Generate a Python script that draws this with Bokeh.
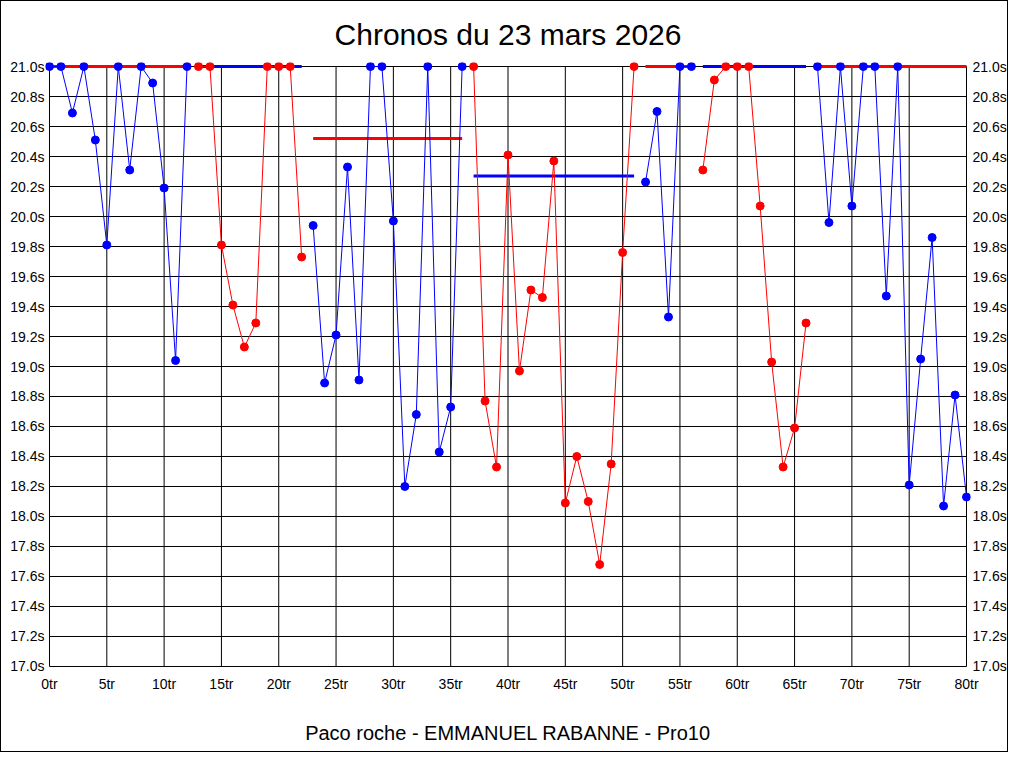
from bokeh.plotting import figure
from bokeh.models import (Range1d, LinearAxis, FixedTicker, PrintfTickFormatter,
                          Title, ColumnDataSource)
from bokeh.embed import file_html
from bokeh.resources import INLINE

# ---------------- data ----------------
laps = list(range(0, 81))
lap_times = [
    21.0, 21.0, 20.69, 21.0, 20.51, 19.81, 21.0, 20.31, 21.0, 20.89,   # 0-9
    20.19, 19.04, 21.0, 21.0, 21.0, 19.81, 19.41, 19.13, 19.29, 21.0,  # 10-19
    21.0, 21.0, 19.73, 19.94, 18.89, 19.21, 20.33, 18.91, 21.0, 21.0,  # 20-29
    19.97, 18.20, 18.68, 21.0, 18.43, 18.73, 21.0, 21.0, 18.77, 18.33, # 30-39
    20.41, 18.97, 19.51, 19.46, 20.37, 18.09, 18.40, 18.10, 17.68, 18.35, # 40-49
    19.76, 21.0, 20.23, 20.70, 19.33, 21.0, 21.0, 20.31, 20.91, 21.0,  # 50-59
    21.0, 21.0, 20.07, 19.03, 18.33, 18.59, 19.29, 21.0, 19.96, 21.0,  # 60-69
    20.07, 21.0, 21.0, 19.47, 21.0, 18.21, 19.05, 19.86, 18.07, 18.81, # 70-79
    18.13,                                                             # 80
]
stint_start = [0, 13, 23, 37, 52, 57, 67]
stint_end = [12, 22, 36, 51, 56, 66, 80]
stint_avg = [21.0, 21.0, 20.52, 20.27, 21.0, 21.0, 21.0]

x_ticks = list(range(0, 81, 5))
y_ticks = [round(17.0 + 0.2 * i, 1) for i in range(21)]

title_text = "Chronos du 23 mars 2026"
footer_text = "Paco roche - EMMANUEL RABANNE - Pro10"

BLUE = "#0000FF"
RED = "#FF0000"
FONT = "Liberation Sans"

# ---------------- figure ----------------
p = figure(width=1008, height=752, output_backend="svg", toolbar_location=None,
           x_range=Range1d(-0.348, 80.348), y_range=Range1d(16.9733, 21.0267),
           min_border_left=44, min_border_right=36, min_border_top=61,
           min_border_bottom=83)
p.background_fill_color = "white"
p.border_fill_color = "white"
p.outline_line_color = None
p.xgrid.visible = False
p.ygrid.visible = False
p.styles = {"border": "1px solid black"}

p.title = Title(text=title_text, align="center", text_font=FONT,
                text_font_size="30px", text_font_style="normal",
                text_color="black", standoff=24, offset=4)

def style_axis(ax, fmt, ticks, standoff):
    ax.ticker = FixedTicker(ticks=ticks)
    ax.formatter = PrintfTickFormatter(format=fmt)
    ax.axis_line_color = None
    ax.major_tick_line_color = None
    ax.minor_tick_line_color = None
    ax.major_tick_in = 0
    ax.major_tick_out = 0
    ax.major_label_standoff = standoff
    ax.major_label_text_font = FONT
    ax.major_label_text_font_size = "14px"
    ax.major_label_text_color = "black"

style_axis(p.xaxis[0], "%dtr", x_ticks, 5)
style_axis(p.yaxis[0], "%.1fs", y_ticks, 1)
right_axis = LinearAxis()
style_axis(right_axis, "%.1fs", y_ticks, 2)
p.add_layout(right_axis, "right")

# footer text as the bottom axis label
xa = p.xaxis[0]
xa.axis_label = footer_text
xa.axis_label_text_font = FONT
xa.axis_label_text_font_size = "20px"
xa.axis_label_text_font_style = "normal"
xa.axis_label_text_color = "black"
xa.axis_label_standoff = 27

# grid (bounded to the data frame)
p.segment(x0=x_ticks, y0=[y_ticks[0]] * len(x_ticks),
          x1=x_ticks, y1=[y_ticks[-1]] * len(x_ticks),
          line_color="black", line_width=1)
p.segment(x0=[x_ticks[0]] * len(y_ticks), y0=y_ticks,
          x1=[x_ticks[-1]] * len(y_ticks), y1=y_ticks,
          line_color="black", line_width=1)

# stint average lines (colour opposite to the stint's points)
for i, (s, e, a) in enumerate(zip(stint_start, stint_end, stint_avg)):
    line_col = RED if i % 2 == 0 else BLUE
    p.line(x=[s, e], y=[a, a], line_color=line_col, line_width=3)

# lap lines and points per stint
for i, (s, e) in enumerate(zip(stint_start, stint_end)):
    col = BLUE if i % 2 == 0 else RED
    src = ColumnDataSource(dict(x=laps[s:e + 1], y=lap_times[s:e + 1]))
    p.line("x", "y", source=src, line_color=col, line_width=1)
for i, (s, e) in enumerate(zip(stint_start, stint_end)):
    col = BLUE if i % 2 == 0 else RED
    src = ColumnDataSource(dict(x=laps[s:e + 1], y=lap_times[s:e + 1]))
    p.scatter("x", "y", source=src, size=8, fill_color=col, line_color=col)

open("out.html", "w").write(file_html(p, INLINE))
